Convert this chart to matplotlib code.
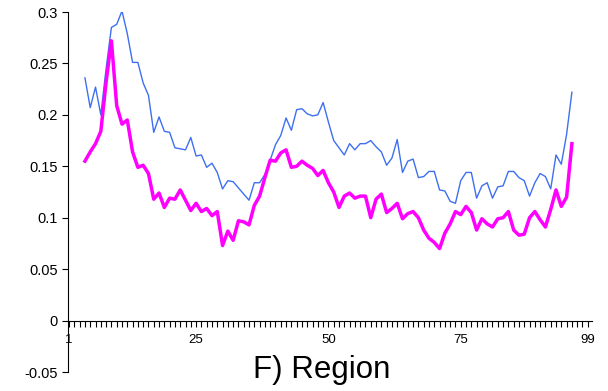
import numpy as np
import matplotlib.pyplot as plt
from matplotlib.ticker import FixedLocator, MultipleLocator

plt.rcParams['font.family'] = ['Liberation Sans', 'DejaVu Sans']

# region index (4..96)
region = list(range(4, 97))

blue_vals = [0.236, 0.207, 0.227, 0.200, 0.245, 0.285, 0.288, 0.301, 0.279, 0.251,
             0.251, 0.231, 0.219, 0.183, 0.198, 0.184, 0.183, 0.168, 0.167, 0.166,
             0.178, 0.160, 0.161, 0.149, 0.153, 0.144, 0.128, 0.136, 0.135, 0.129,
             0.123, 0.117, 0.134, 0.134, 0.142, 0.156, 0.171, 0.180, 0.197, 0.185,
             0.205, 0.206, 0.201, 0.199, 0.200, 0.212, 0.193, 0.175, 0.168, 0.161,
             0.172, 0.166, 0.172, 0.172, 0.175, 0.169, 0.164, 0.151, 0.158, 0.176,
             0.144, 0.155, 0.157, 0.139, 0.140, 0.145, 0.145, 0.127, 0.126, 0.116,
             0.114, 0.136, 0.144, 0.144, 0.119, 0.131, 0.134, 0.119, 0.130, 0.131,
             0.145, 0.145, 0.139, 0.136, 0.121, 0.134, 0.143, 0.140, 0.128, 0.161,
             0.152, 0.181, 0.222]

magenta_vals = [0.155, 0.164, 0.172, 0.184, 0.232, 0.272, 0.209, 0.191, 0.195, 0.164,
                0.149, 0.151, 0.143, 0.118, 0.124, 0.110, 0.119, 0.118, 0.127, 0.117,
                0.107, 0.114, 0.106, 0.109, 0.102, 0.106, 0.073, 0.087, 0.078, 0.097,
                0.096, 0.093, 0.112, 0.121, 0.139, 0.156, 0.155, 0.163, 0.166, 0.149,
                0.150, 0.155, 0.151, 0.148, 0.141, 0.146, 0.134, 0.125, 0.110, 0.121,
                0.124, 0.119, 0.121, 0.121, 0.100, 0.118, 0.123, 0.105, 0.109, 0.114,
                0.099, 0.104, 0.106, 0.100, 0.088, 0.080, 0.076, 0.070, 0.085, 0.094,
                0.106, 0.103, 0.111, 0.105, 0.088, 0.099, 0.094, 0.091, 0.099, 0.100,
                0.106, 0.088, 0.083, 0.084, 0.100, 0.106, 0.098, 0.091, 0.108, 0.127,
                0.111, 0.120, 0.172]

xticks = [1, 25, 50, 75, 99]
yticks = [-0.05, 0, 0.05, 0.1, 0.15, 0.2, 0.25, 0.3]
ylabels = ['-0.05', '0', '0.05', '0.1', '0.15', '0.2', '0.25', '0.3']

fig = plt.figure(figsize=(6.08, 3.91), dpi=100)
ax = fig.add_axes([68/608, 1-372/391, (592-68)/608, (372-12)/391])

ax.plot(region, blue_vals, color='#3d6ff0', linewidth=1.0)
ax.plot(region, magenta_vals, color='#ff00ff', linewidth=2.5)

ax.set_xlim(0.8, 99.8)
ax.set_ylim(-0.05, 0.3)

ax.spines['top'].set_visible(False)
ax.spines['right'].set_visible(False)
ax.spines['bottom'].set_position(('data', 0))

ax.xaxis.set_major_locator(FixedLocator(xticks))
ax.xaxis.set_minor_locator(MultipleLocator(1))
ax.set_xticklabels([str(t) for t in xticks])
ax.tick_params(axis='x', which='both', direction='out', length=4, width=0.8,
               labelsize=9.5, pad=6)
ax.set_yticks(yticks)
ax.set_yticklabels(ylabels)
ax.tick_params(axis='y', direction='out', length=4, width=0.8, labelsize=10.5)

fig.text(322/608, 1-370/391, 'F) Region', ha='center', va='center', fontsize=22.5)

plt.savefig('out.png', dpi=100)
